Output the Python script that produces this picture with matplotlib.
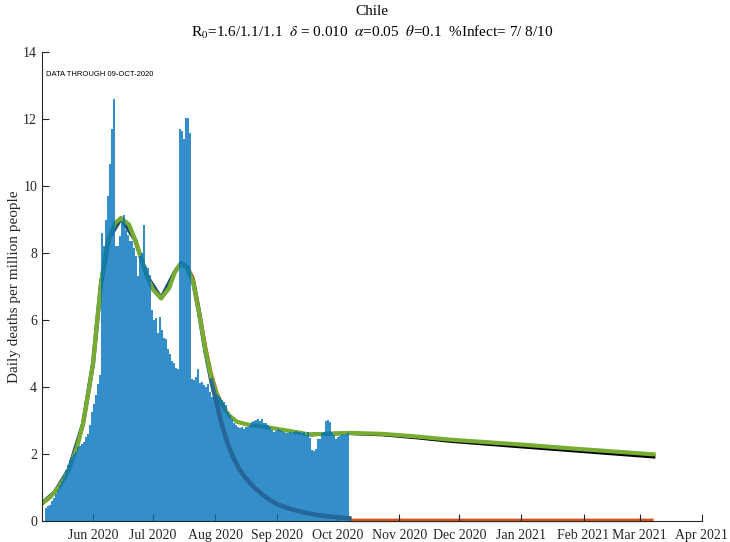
import numpy as np
import pandas as pd
import matplotlib
matplotlib.use('Agg')
import matplotlib.pyplot as plt
import matplotlib.dates as mdates

plt.rcParams['font.family'] = ['Liberation Serif', 'DejaVu Serif']
plt.rcParams['mathtext.fontset'] = 'stix'

# daily deaths per million, one bar per day
first_day = '2020-05-08'
deaths = [0.40, 0.45, 0.48, 0.60, 0.70, 0.82, 0.94, 1.07, 1.20, 1.34, 1.52, 1.67, 1.82, 1.92,
          2.00, 2.07, 2.20, 2.23, 2.30, 2.36, 2.50, 2.60, 2.86, 3.26, 3.50, 3.75, 4.10, 4.35,
          8.6, 8.2, 9.0, 9.7, 10.65, 11.7, 12.6, 8.2, 8.2, 8.5, 8.9, 9.15, 8.7, 8.55, 8.35, 8.35,
          8.15, 7.9, 7.3, 7.9, 8.0, 8.85, 7.6, 7.55, 7.35, 6.3, 6.0, 6.05, 5.6, 6.1, 5.7, 5.45,
          5.44, 5.14, 5.0, 4.78, 4.72, 4.58, 4.55, 11.7, 11.63, 11.4, 12.03, 12.03, 11.57,
          4.25, 4.22, 4.3, 4.55, 4.12, 4.15, 4.05, 4.0, 4.1, 3.85, 3.7, 3.85, 3.8, 3.75, 3.7,
          3.6, 3.55, 3.45,
          3.26, 3.16, 3.06, 2.92, 2.87, 2.82, 2.77, 2.8, 2.76, 2.8, 2.82, 2.87, 2.97, 3.0, 3.02,
          3.06, 3.0, 3.06, 2.92, 2.94, 2.87, 2.82, 2.72, 2.67, 2.7, 2.74, 2.72, 2.69, 2.67, 2.64,
          2.62,
          2.67, 2.62, 2.67, 2.69, 2.65, 2.67, 2.62, 2.67, 2.57, 2.67, 2.47, 2.12, 2.09, 2.15,
          2.44, 2.45, 2.62, 2.65, 2.99, 3.01, 2.95, 2.65, 2.57, 2.45, 2.52, 2.54, 2.59, 2.56,
          2.59, 2.62]

# model: total (green)
total_dates = ['2020-05-07', '2020-05-10', '2020-05-13', '2020-05-17', '2020-05-20', '2020-05-24',
               '2020-05-27', '2020-05-30', '2020-06-01', '2020-06-03', '2020-06-05', '2020-06-07',
               '2020-06-09', '2020-06-12', '2020-06-15', '2020-06-19', '2020-06-22', '2020-06-25',
               '2020-06-28', '2020-07-01', '2020-07-05', '2020-07-09', '2020-07-12', '2020-07-15',
               '2020-07-18', '2020-07-21', '2020-07-24', '2020-07-27', '2020-07-30', '2020-08-02',
               '2020-08-05', '2020-08-08', '2020-08-12', '2020-08-18', '2020-08-27', '2020-09-04',
               '2020-09-12', '2020-09-17', '2020-09-24', '2020-10-07', '2020-10-24', '2020-11-10',
               '2020-11-26', '2020-12-30', '2021-02-01', '2021-03-08']
total_model = [0.55, 0.68, 0.87, 1.2, 1.55, 2.2, 2.9, 3.95, 4.7, 5.95, 7.1, 7.9, 8.45, 8.9, 9.04,
               8.85, 8.4, 7.85, 7.3, 6.9, 6.65, 6.95, 7.45, 7.7, 7.55, 7.15, 6.2, 5.15, 4.3, 3.75,
               3.4, 3.15, 2.96, 2.87, 2.8, 2.72, 2.64, 2.58, 2.6, 2.63, 2.6, 2.52, 2.43, 2.29,
               2.14, 1.99]

# first wave component (dark blue)
wave1_dates = ['2020-05-07', '2020-05-13', '2020-05-20', '2020-05-27', '2020-06-01', '2020-06-05',
               '2020-06-09', '2020-06-15', '2020-06-22', '2020-06-28', '2020-07-05', '2020-07-12',
               '2020-07-15', '2020-07-18', '2020-07-21', '2020-07-24', '2020-07-27', '2020-07-30',
               '2020-08-01', '2020-08-04', '2020-08-07', '2020-08-10', '2020-08-13', '2020-08-16',
               '2020-08-20', '2020-08-24', '2020-08-28', '2020-09-01', '2020-09-07', '2020-09-14',
               '2020-09-21', '2020-09-28', '2020-10-07']
wave1 = [0.55, 0.87, 1.55, 2.9, 4.7, 7.1, 8.45, 9.04, 8.4, 7.3, 6.65, 7.45, 7.7, 7.55, 7.15, 6.2,
         5.1, 4.2, 3.7, 2.95, 2.35, 1.9, 1.55, 1.3, 1.03, 0.82, 0.64, 0.5, 0.37, 0.26, 0.18,
         0.13, 0.08]

# alternative projection (black)
black_dates = ['2020-09-17', '2020-09-24', '2020-10-07', '2020-10-24', '2020-11-10', '2020-11-26',
               '2020-12-30', '2021-02-01', '2021-03-08']
black_vals = [2.58, 2.6, 2.62, 2.58, 2.49, 2.39, 2.23, 2.08, 1.92]

# second component (orange), gap where it is hidden
orange_dates = ['2020-07-15', '2020-07-18', '2020-07-21', '2020-07-24', '2020-07-27', '2020-07-30',
                '2020-08-02', '2020-08-05', '2020-08-08', '2020-10-07', '2020-10-07', '2021-03-08']
orange_vals = [7.72, 7.6, 7.25, 6.3, 5.25, 4.4, 3.8, 3.42, 3.15, np.nan, 0.02, 0.02]

fig = plt.figure(figsize=(7.3, 5.42), dpi=100)
ax = fig.add_axes([0.0575, 0.0387, 0.9037, 0.8653])

w1_dates = pd.to_datetime(wave1_dates)
w1 = np.array(wave1)
ax.plot(pd.to_datetime(orange_dates), orange_vals, color='#D95319', lw=2.5, zorder=1,
        clip_on=False, solid_capstyle='butt')
ax.plot(w1_dates, w1, color='#1d4f78', lw=3, zorder=1.1)
ax.plot(pd.to_datetime(black_dates), black_vals, color='black', lw=2.6, zorder=1.2)
ax.plot(pd.to_datetime(total_dates), total_model, color='#77AC30', lw=3, zorder=1.3)

days = pd.date_range(first_day, periods=len(deaths), freq='D') + pd.Timedelta(hours=10)
ax.bar(days, deaths, width=0.8, color=(0, 0.447, 0.741), alpha=0.8, linewidth=0, zorder=2)

# the decaying tail of the first wave shows through the bars
tail = w1_dates >= pd.Timestamp('2020-07-30')
ax.plot(w1_dates[tail], w1[tail], color='#2b6694', lw=3, alpha=0.9, zorder=2.5)

ax.set_xlim(pd.Timestamp('2020-05-06 12:00'), pd.Timestamp('2021-04-01'))
ax.set_ylim(0, 14)
ax.set_yticks(range(0, 15, 2))
ax.xaxis.set_major_locator(mdates.MonthLocator(bymonth=[1, 2, 3, 4, 6, 7, 8, 9, 10, 11, 12]))
ax.xaxis.set_major_formatter(mdates.DateFormatter('%b %Y'))

for s in ['top', 'right']:
    ax.spines[s].set_visible(False)
for s in ['left', 'bottom']:
    ax.spines[s].set_color('#262626')
    ax.spines[s].set_linewidth(0.8)
ax.tick_params(direction='in', length=5, width=0.8, colors='#262626', labelsize=10)
ax.tick_params(axis='x', pad=6)

ax.set_ylabel('Daily deaths per million people', fontsize=11, color='#262626')
ax.yaxis.set_label_coords(-0.032, 0.5)

ax.text(0.006, 0.952, 'DATA THROUGH 09-OCT-2020', transform=ax.transAxes,
        family=['Liberation Sans', 'DejaVu Sans'], fontsize=5.5, va='center', ha='left')

fig.text(0.5095, 0.978, 'Chile', ha='center', va='center', fontsize=11)
fig.text(0.5095, 0.940,
         r'R$_0$=1.6/1.1/1.1  $\delta$ = 0.010  $\alpha$=0.05  $\theta$=0.1  %Infect= 7/ 8/10',
         ha='center', va='center', fontsize=11)

fig.savefig('out.png', dpi=100)
